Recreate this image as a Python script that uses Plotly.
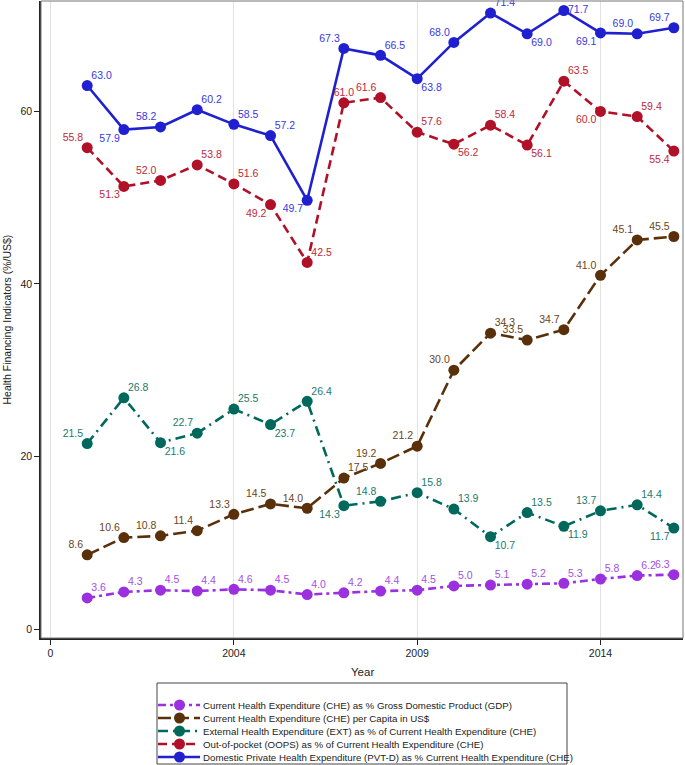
import plotly.graph_objects as go

years = list(range(2000, 2017))

names = [
    "Current Health Expenditure (CHE) as % Gross Domestic Product (GDP)",
    "Current Health Expenditure (CHE) per Capita in US$",
    "External Health Expenditure (EXT) as % of Current Health Expenditure (CHE)",
    "Out-of-pocket (OOPS) as % of Current Health Expenditure (CHE)",
    "Domestic Private Health Expenditure (PVT-D) as % Current Health Expenditure (CHE)",
]

che_gdp = [3.6, 4.3, 4.5, 4.4, 4.6, 4.5, 4.0, 4.2, 4.4, 4.5, 5.0, 5.1, 5.2, 5.3, 5.8, 6.2, 6.3]
che_pc = [8.6, 10.6, 10.8, 11.4, 13.3, 14.5, 14.0, 17.5, 19.2, 21.2, 30.0, 34.3, 33.5, 34.7, 41.0, 45.1, 45.5]
ext = [21.5, 26.8, 21.6, 22.7, 25.5, 23.7, 26.4, 14.3, 14.8, 15.8, 13.9, 10.7, 13.5, 11.9, 13.7, 14.4, 11.7]
oops = [55.8, 51.3, 52.0, 53.8, 51.6, 49.2, 42.5, 61.0, 61.6, 57.6, 56.2, 58.4, 56.1, 63.5, 60.0, 59.4, 55.4]
pvtd = [63.0, 57.9, 58.2, 60.2, 58.5, 57.2, 49.7, 67.3, 66.5, 63.8, 68.0, 71.4, 69.0, 71.7, 69.1, 69.0, 69.7]

xtick_vals = [1999, 2004, 2009, 2014]
xtick_text = ["0", "2004", "2009", "2014"]
ytick_vals = [0, 20, 40, 60]

TR, TL, BR, BL, TC, MR = "top right", "top left", "bottom right", "bottom left", "top center", "middle right"
pos_gdp = [TR] * 16 + [TL]
pos_pc = [TL] * 7 + [TR, TL, TL, TL, TR, TL, TL, TL, TL, TL]
pos_ext = [TL, TR, BR, TL, TR, BR, TR, BL, TL, TR, TR, BR, TR, BR, TL, TR, BL]
pos_oops = [TL, BL, TL, TR, TR, BL, TR, TC, TL, TR, BR, TR, BR, TR, BL, TR, BL]
pos_pvtd = [TR, BL, TL, TR, TR, TR, BL, TL, TR, BR, TL, TR, BR, MR, BL, TL, TL]

series = [
    (che_gdp, pos_gdp, "#9B30DF", "#A450E6", "8px,4px,3px,4px"),
    (che_pc, pos_pc, "#5A300A", "#6B4420", "13px,5px"),
    (ext, pos_ext, "#00695C", "#1A7A6E", "10px,5px,2px,5px"),
    (oops, pos_oops, "#B01028", "#C0283A", "9px,5px"),
    (pvtd, pos_pvtd, "#2020D0", "#3838E0", "solid"),
]

fig = go.Figure()
for (vals, pos, col, tcol, dash), name in zip(series, names):
    fig.add_trace(go.Scatter(
        x=years, y=vals, name=name, mode="lines+markers",
        line=dict(color=col, width=2.6, dash=dash),
        marker=dict(color=col, size=11),
        showlegend=False, cliponaxis=False,
    ))
for (vals, pos, col, tcol, dash), name in zip(series, names):
    fig.add_trace(go.Scatter(
        x=years, y=vals, name=name, mode="markers+text",
        marker=dict(color="rgba(0,0,0,0)", size=5),
        text=[f"{v:.1f}" for v in vals], textposition=pos,
        textfont=dict(color=tcol, size=10.5),
        showlegend=False, cliponaxis=False, hoverinfo="skip",
    ))

W, H = 685, 765
L, R, T, B = 41, 2, 1, 127
pw, ph = W - L - R, H - T - B


def px(x):
    return (x - L) / pw


def py(y):
    return (H - B - y) / ph


shapes = [dict(type="rect", xref="paper", yref="paper", x0=0, x1=1, y0=0, y1=1,
               line=dict(color="#777777", width=1), layer="above")]
annotations = [
    dict(xref="paper", yref="paper", x=0.5, y=py(672), text="Year", showarrow=False,
         xanchor="center", yanchor="middle", font=dict(size=11.5, color="#222222")),
    dict(xref="paper", yref="paper", x=px(6), y=0.5, text="Health Financing Indicators (%/US$)",
         showarrow=False, textangle=-90, xanchor="center", yanchor="middle",
         font=dict(size=10.5, color="#222222")),
]
# legend box
shapes.append(dict(type="rect", xref="paper", yref="paper", x0=px(157), x1=px(567),
                   y0=py(764), y1=py(683), line=dict(color="#444444", width=1)))
rows = [705, 718, 731, 744, 757]
for (vals, pos, col, tcol, dash), name, ry in zip(series, names, rows):
    shapes.append(dict(type="line", xref="paper", yref="paper", x0=px(158), x1=px(200),
                       y0=py(ry), y1=py(ry), line=dict(color=col, width=2.6, dash=dash)))
    shapes.append(dict(type="circle", xref="paper", yref="paper", x0=px(174), x1=px(185),
                       y0=py(ry + 5.5), y1=py(ry - 5.5), fillcolor=col, line=dict(color=col, width=0)))
    annotations.append(dict(xref="paper", yref="paper", x=px(201), y=py(ry), text=name,
                            showarrow=False, xanchor="left", yanchor="middle",
                            font=dict(size=9.7, color="#222222")))

fig.update_layout(
    width=W, height=H,
    margin=dict(l=L, r=R, t=T, b=B, autoexpand=False),
    paper_bgcolor="white", plot_bgcolor="white",
    font=dict(family="Arial, Liberation Sans, sans-serif", size=10.5, color="#222222"),
    shapes=shapes, annotations=annotations,
    xaxis=dict(range=[1998.74, 2016.25], tickvals=xtick_vals, ticktext=xtick_text,
               automargin=False,
               showgrid=True, gridcolor="#E2E2E2", gridwidth=1, zeroline=False,
               showline=True, linecolor="#222222", linewidth=1.5,
               ticks="outside", ticklen=5, tickcolor="#222222"),
    yaxis=dict(range=[-1.04, 72.8], tickvals=ytick_vals, automargin=False,
               showgrid=False, zeroline=False,
               showline=True, linecolor="#222222", linewidth=1.5,
               ticks="outside", ticklen=5, tickcolor="#222222"),
)

fig.write_html("out.html", config={"displayModeBar": False},
               post_script="document.body.style.margin='0';")
